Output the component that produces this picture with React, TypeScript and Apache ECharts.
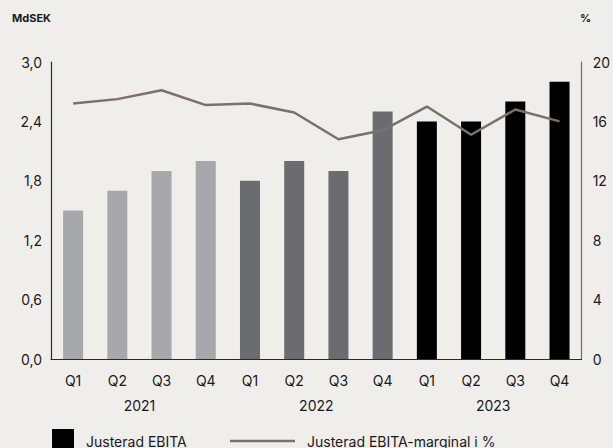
import React, { useEffect, useRef } from "react";
import * as echarts from "echarts";

const quarters = ["Q1", "Q2", "Q3", "Q4", "Q1", "Q2", "Q3", "Q4", "Q1", "Q2", "Q3", "Q4"];
const years = ["2021", "2022", "2023"];
const ebita = [1.5, 1.7, 1.9, 2.0, 1.8, 2.0, 1.9, 2.5, 2.4, 2.4, 2.6, 2.8];
const margin = [17.2, 17.5, 18.1, 17.1, 17.2, 16.6, 14.8, 15.4, 17.0, 15.1, 16.8, 16.0];
const barColors = ["#a7a8ab", "#a7a8ab", "#a7a8ab", "#a7a8ab", "#6b6c70", "#6b6c70", "#6b6c70", "#6b6c70", "#000000", "#000000", "#000000", "#000000"];
const leftTicks = ["0,0", "0,6", "1,2", "1,8", "2,4", "3,0"];

const FONT = "Inter, 'Noto Sans', sans-serif";

export default function App() {
  const ref = useRef<HTMLDivElement>(null);
  useEffect(() => {
    const chart = echarts.init(ref.current!, null, { renderer: "svg" });
    chart.setOption({
      animation: false,
      backgroundColor: "#efeeeb",
      textStyle: { fontFamily: FONT },
      grid: { left: 51, right: 29, top: 62, bottom: 89, containLabel: false },
      xAxis: [
        {
          type: "category",
          data: quarters,
          position: "bottom",
          axisLine: { show: true, lineStyle: { color: "#2a2a2a", width: 1.2 } },
          axisTick: { show: false },
          axisLabel: { color: "#1a1a1a", fontSize: 14, margin: 14, fontFamily: FONT },
        },
        {
          type: "category",
          data: years,
          position: "bottom",
          offset: 25,
          axisLine: { show: false },
          axisTick: { show: false },
          axisLabel: { color: "#1a1a1a", fontSize: 14, margin: 14, fontFamily: FONT },
        },
      ],
      yAxis: [
        {
          type: "value",
          min: 0,
          max: 3,
          interval: 0.6,
          position: "left",
          splitLine: { show: false },
          axisLine: { show: true, lineStyle: { color: "#2a2a2a", width: 1.2 } },
          axisTick: { show: false },
          axisLabel: {
            color: "#1a1a1a",
            fontSize: 14,
            margin: 9,
            padding: [11, 0, 0, 0],
            fontFamily: FONT,
            formatter: (v: number) => leftTicks[Math.round(v / 0.6)] ?? "",
          },
        },
        {
          type: "value",
          min: 0,
          max: 20,
          interval: 4,
          position: "right",
          splitLine: { show: false },
          axisLine: { show: true, lineStyle: { color: "#6e6e6e", width: 1.2 } },
          axisTick: { show: false },
          axisLabel: { color: "#1a1a1a", fontSize: 14, margin: 11, fontFamily: FONT },
        },
      ],
      series: [
        {
          name: "Justerad EBITA",
          type: "bar",
          xAxisIndex: 0,
          yAxisIndex: 0,
          barWidth: 20,
          data: ebita.map((v, i) => ({ value: v, itemStyle: { color: barColors[i] } })),
        },
        {
          name: "Justerad EBITA-marginal i %",
          type: "line",
          xAxisIndex: 0,
          yAxisIndex: 1,
          data: margin,
          symbol: "none",
          lineStyle: { color: "#7a716d", width: 2.5 },
        },
      ],
      graphic: [
        { type: "text", left: 12, top: 12, style: { text: "MdSEK", fontSize: 11, fontWeight: "bold", fill: "#1a1a1a", fontFamily: FONT } },
        { type: "text", left: 580, top: 12, style: { text: "%", fontSize: 11, fontWeight: "bold", fill: "#1a1a1a", fontFamily: FONT } },
        { type: "rect", shape: { x: 52, y: 429, width: 22, height: 22 }, style: { fill: "#000" } },
        { type: "text", left: 86, top: 434, style: { text: "Justerad EBITA", fontSize: 14, fill: "#1a1a1a", fontFamily: FONT } },
        { type: "line", shape: { x1: 230, y1: 441, x2: 295, y2: 441 }, style: { stroke: "#7a716d", lineWidth: 2.5 } },
        { type: "text", left: 307, top: 434, style: { text: "Justerad EBITA-marginal i %", fontSize: 14, fill: "#1a1a1a", fontFamily: FONT } },
      ],
    });
    return () => chart.dispose();
  }, []);
  return <div ref={ref} style={{ position: "absolute", left: 0, top: 0, width: 613, height: 448 }} />;
}
